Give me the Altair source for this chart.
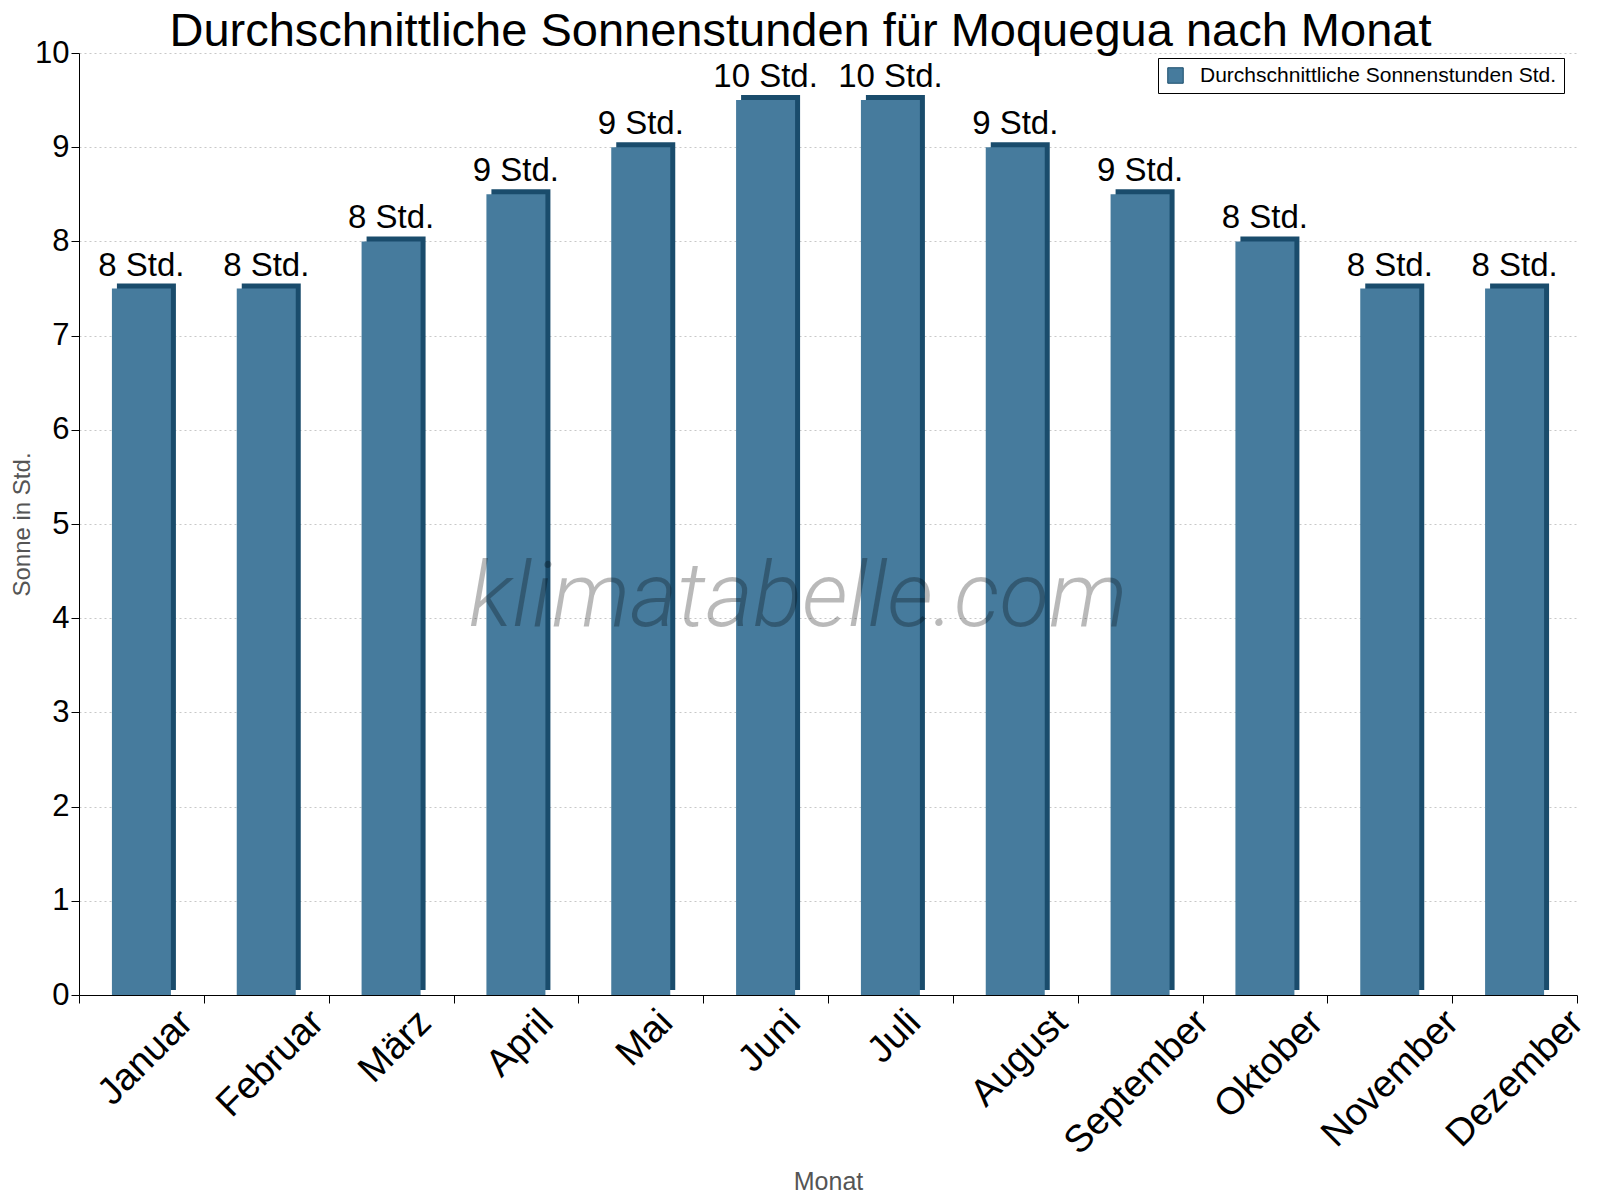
import altair as alt
import pandas as pd

months = ["Januar", "Februar", "März", "April", "Mai", "Juni",
          "Juli", "August", "September", "Oktober", "November", "Dezember"]
sun_hours = [7.5, 7.5, 8.0, 8.5, 9.0, 9.5, 9.5, 9.0, 8.5, 8.0, 7.5, 7.5]
series_name = "Durchschnittliche Sonnenstunden Std."

face_color = "#467b9d"
side_color = "#1a4c6c"
font = "Liberation Sans"

df = pd.DataFrame({
    "Monat": months,
    "Sonne": sun_hours,
    "Serie": series_name,
    # labels rounded half up, as on the site
    "Label": [f"{int(v + 0.5)} Std." for v in sun_hours],
})

W, H = 1498, 942
BAR = 59
XFONT = 38

# Arial / Liberation Sans advance widths (per 1000 em), used to centre the
# rotated month labels on their band like the original does
ADV = {"J": 500, "a": 556, "n": 556, "u": 556, "r": 333, "F": 611, "e": 556,
       "b": 556, "M": 833, "ä": 556, "z": 500, "A": 667, "p": 556, "i": 222,
       "l": 222, "o": 556, "g": 556, "s": 500, "t": 278, "S": 667, "m": 833,
       "O": 778, "k": 500, "v": 500, "N": 722, "D": 722}


def label_shift(word):
    length = sum(ADV.get(c, 556) for c in word) / 1000 * XFONT
    return min(round(0.354 * (length - 0.85 * XFONT) + 2, 1), 49)


label_offset = {
    "condition": [
        {"test": f"datum.value == '{m}'", "value": label_shift(m)} for m in months
    ],
    "value": 30,
}

x_enc = alt.X(
    "Monat:N", sort=months, title="Monat",
    scale=alt.Scale(paddingInner=0, paddingOuter=0),
    axis=alt.Axis(
        labelAngle=-45, labelFontSize=XFONT, labelColor="#000", labelFont=font,
        labelPadding=0, labelOffset=label_offset, labelLimit=400,
        tickBand="extent", tickSize=8, tickColor="#000", domainColor="#000",
        titleFontSize=25, titleColor="#555", titleFontWeight="normal",
        titleFont=font, titlePadding=8,
    ),
)
y_enc = alt.Y(
    "Sonne:Q", title="Sonne in Std.",
    scale=alt.Scale(domain=[0, 10], nice=False),
    axis=alt.Axis(
        values=list(range(11)), labelFontSize=31, labelColor="#000",
        labelFont=font, labelPadding=2, tickSize=8, tickColor="#000",
        domainColor="#000", grid=True, gridDash=[2, 3], gridColor="#c8c8c8",
        titleFontSize=24, titleColor="#555", titleFontWeight="normal",
        titleFont=font, titlePadding=0,
    ),
)

base = alt.Chart(df).encode(x=x_enc, y=y_enc)

# darker block behind the face gives the bevel on top and right
side = base.mark_bar(color=side_color, size=BAR, xOffset=5, yOffset=-5)

face = base.mark_bar(size=BAR, strokeWidth=0).encode(
    color=alt.Color(
        "Serie:N",
        scale=alt.Scale(range=[face_color]),
        legend=alt.Legend(
            title=None, orient="none", legendX=1079, legendY=5,
            labelFontSize=21, labelFont=font, labelColor="#000",
            labelOffset=14, symbolType="square", symbolSize=240,
            symbolStrokeColor=side_color, symbolStrokeWidth=1,
            strokeColor="#000", fillColor="#fff", padding=7,
            cornerRadius=0, labelLimit=500,
        ),
    )
)

labels = base.mark_text(
    baseline="bottom", dy=-6, fontSize=33, font=font, color="#000"
).encode(text="Label:N")

watermark = alt.Chart(pd.DataFrame({"t": ["klimatabelle.com"]})).mark_text(
    font="Roboto", fontStyle="italic", fontWeight=300, fontSize=91,
    color="#000", opacity=0.27, align="center", baseline="middle",
).encode(text="t:N", x=alt.value(W / 2 - 30), y=alt.value(H * 0.565 + 14))

chart = (
    alt.layer(side, face, labels, watermark)
    .properties(
        width=W, height=H,
        title=alt.TitleParams(
            "Durchschnittliche Sonnenstunden für Moquegua nach Monat",
            fontSize=47, font=font, fontWeight="normal", color="#000",
            anchor="middle", frame="bounds", offset=-19,
        ),
        padding={"left": 2, "top": 0, "right": 0, "bottom": 0},
    )
    .configure_view(stroke=None)
)

chart.save("out.html", embed_options={"renderer": "svg", "actions": False})
